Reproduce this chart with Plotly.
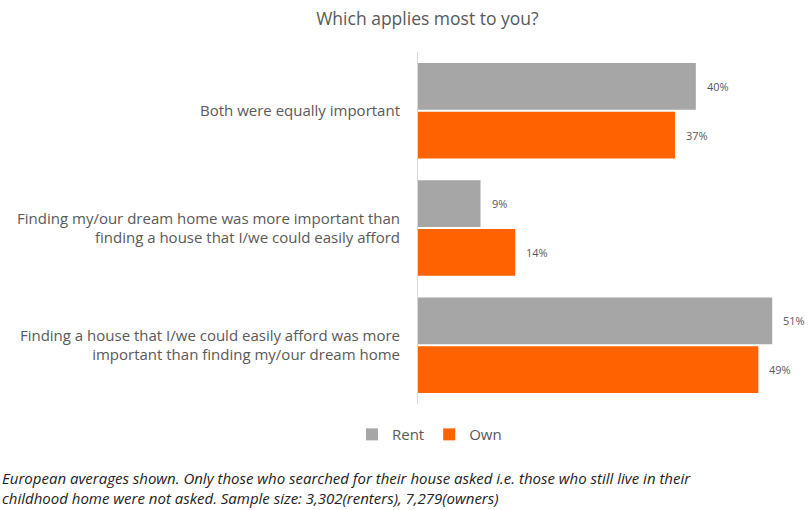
import plotly.graph_objects as go

categories = [
    "Both were equally important",
    "Finding my/our dream home was more important than<br>finding a house that I/we could easily afford",
    "Finding a house that I/we could easily afford was more<br>important than finding my/our dream home",
]
series_names = ["Rent", "Own"]
rent = [40, 9, 51]
own = [37, 14, 49]
colors = ["#a6a6a6", "#ff6200"]
footnote_lines = [
    "European averages shown. Only those who searched for their house asked i.e. those who still live in their",
    "childhood home were not asked. Sample size: 3,302(renters), 7,279(owners)",
]

FONT = "Open Sans, sans-serif"
fig = go.Figure()
for name, vals, col in zip(series_names, [rent, own], colors):
    fig.add_trace(go.Bar(
        y=categories, x=vals, name=name, orientation="h",
        marker=dict(color=col, line=dict(width=0)),
        hoverinfo="x+name",
    ))

# data labels as annotations placed with an offset from bar ends
for ti, vals in enumerate([rent, own]):
    for ci, v in enumerate(vals):
        fig.add_annotation(
            x=v, y=ci, xref="x", yref="y",
            text=f"{v}%", showarrow=False,
            xanchor="left", xshift=9,
            yshift=(24.5 if ti == 0 else -24.5),
            font=dict(family=FONT, size=11, color="#595959"),
        )

fig.add_annotation(
    xref="paper", yref="paper", x=-1.094, y=-0.239,
    xanchor="left", yanchor="middle", align="left", showarrow=False,
    text="<i>" + "<br>".join(footnote_lines) + "</i>",
    font=dict(family=FONT, size=15, color="#222222"),
)

fig.update_layout(
    width=811, height=510,
    margin=dict(l=418, r=11, t=52, b=106),
    paper_bgcolor="white", plot_bgcolor="white",
    title=dict(text="Which applies most to you?", x=0.527, xanchor="center", y=0.963, yanchor="middle",
               font=dict(family=FONT, size=17.5, color="#595959")),
    barmode="group", bargap=0.17, bargroupgap=0.04,
    showlegend=True,
    legend=dict(orientation="h", x=0.03, xanchor="center", y=-0.087, yanchor="middle",
                font=dict(family=FONT, size=15, color="#595959"), itemwidth=30,
                tracegroupgap=0),
    xaxis=dict(range=[0, 55], showgrid=False, showticklabels=False, zeroline=False,
               showline=False, fixedrange=True),
    yaxis=dict(autorange="reversed", showgrid=False, showline=True, linecolor="#d9d9d9",
               linewidth=1, ticks="", ticklabelstandoff=14,
               tickfont=dict(family=FONT, size=15, color="#595959")),
)

fig.write_html("out.html")
